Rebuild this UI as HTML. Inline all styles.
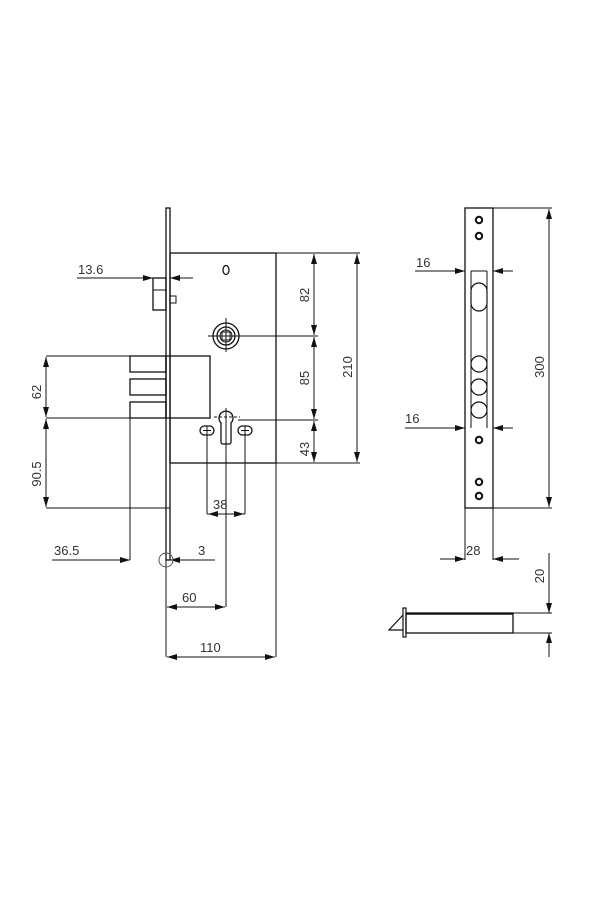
<!DOCTYPE html>
<html><head><meta charset="utf-8"><style>
html,body{margin:0;padding:0;background:#fff;}
svg{display:block}
text{font-family:"Liberation Sans",sans-serif;font-size:13px;fill:#333}
</style></head><body>
<svg width="600" height="900" viewBox="0 0 600 900" xmlns="http://www.w3.org/2000/svg">
<defs>
<marker id="a" viewBox="0 0 10 6" refX="10" refY="3" markerWidth="10" markerHeight="6" markerUnits="userSpaceOnUse" orient="auto-start-reverse"><path d="M0,0 L10,3 L0,6 z" fill="#111"/></marker>
</defs>
<g stroke="#111" stroke-width="1" fill="none">
<rect x="166" y="208" width="4" height="352" fill="#fff" stroke-width="1.3"/>
<line x1="166" y1="560" x2="166" y2="657"/>
<rect x="170" y="253" width="106" height="210" stroke-width="1.3"/>
<line x1="276" y1="463" x2="276" y2="657"/>
<ellipse cx="226" cy="270" rx="3" ry="4.5" stroke-width="1.3"/>
<rect x="153" y="278" width="13" height="32" stroke-width="1.3"/>
<line x1="153" y1="290" x2="166" y2="290"/>
<rect x="170" y="296" width="6" height="7"/>
<circle cx="226" cy="336" r="13" stroke-width="1.3"/>
<circle cx="226" cy="336" r="9" stroke-width="1.3"/>
<circle cx="226" cy="336" r="6"/>
<rect x="222" y="332" width="8" height="8"/>
<line x1="208" y1="336" x2="318" y2="336"/>
<line x1="226" y1="318" x2="226" y2="352"/>
<rect x="166" y="356" width="44" height="62" stroke-width="1.3"/>
<rect x="130" y="356" width="36" height="16" stroke-width="1.3"/>
<rect x="130" y="379" width="36" height="16" stroke-width="1.3"/>
<rect x="130" y="402" width="36" height="16" stroke-width="1.3"/>
<line x1="130" y1="418" x2="130" y2="560"/>
<path d="M221,423 A7,7 0 1 1 231,423 L231,442 A2,2 0 0 1 229,444 L223,444 A2,2 0 0 1 221,442 Z" stroke-width="1.3"/>
<line x1="226" y1="408" x2="226" y2="607"/>
<line x1="214" y1="417" x2="240" y2="417" stroke-dasharray="3,2"/>
<rect x="200" y="426" width="14" height="9" rx="4.5" stroke-width="1.3"/>
<rect x="238" y="426" width="14" height="9" rx="4.5" stroke-width="1.3"/>
<line x1="203" y1="430.5" x2="211" y2="430.5"/><line x1="241" y1="430.5" x2="249" y2="430.5"/>
<line x1="207" y1="426" x2="207" y2="514"/>
<line x1="245" y1="426" x2="245" y2="514"/>
<line x1="238" y1="420" x2="318" y2="420"/>
<line x1="276" y1="253" x2="360" y2="253"/>
<line x1="276" y1="463" x2="360" y2="463"/>
<line x1="314" y1="254" x2="314" y2="335" marker-start="url(#a)" marker-end="url(#a)"/>
<line x1="314" y1="337" x2="314" y2="419" marker-start="url(#a)" marker-end="url(#a)"/>
<line x1="314" y1="421" x2="314" y2="462" marker-start="url(#a)" marker-end="url(#a)"/>
<line x1="357" y1="254" x2="357" y2="462" marker-start="url(#a)" marker-end="url(#a)"/>
<line x1="77" y1="278" x2="153" y2="278" marker-end="url(#a)"/>
<line x1="193" y1="278" x2="170" y2="278" marker-end="url(#a)"/>
<line x1="46" y1="356" x2="130" y2="356"/>
<line x1="46" y1="418" x2="130" y2="418"/>
<line x1="46" y1="508" x2="170" y2="508"/>
<line x1="46" y1="357" x2="46" y2="417" marker-start="url(#a)" marker-end="url(#a)"/>
<line x1="46" y1="419" x2="46" y2="507" marker-start="url(#a)" marker-end="url(#a)"/>
<line x1="52" y1="560" x2="130" y2="560" marker-end="url(#a)"/>
<line x1="215" y1="560" x2="170" y2="560" marker-end="url(#a)"/>
<circle cx="166" cy="560" r="7" stroke="#555"/>
<line x1="207" y1="514" x2="245" y2="514"/>
<line x1="226" y1="514" x2="208" y2="514" marker-end="url(#a)"/>
<line x1="226" y1="514" x2="244" y2="514" marker-end="url(#a)"/>
<line x1="167" y1="607" x2="225" y2="607" marker-start="url(#a)" marker-end="url(#a)"/>
<line x1="167" y1="657" x2="275" y2="657" marker-start="url(#a)" marker-end="url(#a)"/>
<rect x="465" y="208" width="28" height="300" stroke-width="1.3"/>
<path d="M471,271 L471,428 M487,271 L487,428 M471,271 L487,271"/>
<path d="M471,291 A8,8 0 0 1 487,291 L487,303 A8,8 0 0 1 471,303 Z" stroke-width="1.2"/>
<circle cx="479" cy="364" r="8" stroke-width="1.2"/>
<circle cx="479" cy="387" r="8" stroke-width="1.2"/>
<circle cx="479" cy="410" r="8" stroke-width="1.2"/>
<g stroke-width="2">
<circle cx="479" cy="220" r="3.2"/><circle cx="479" cy="236" r="3.2"/>
<circle cx="479" cy="440" r="3.2"/><circle cx="479" cy="482" r="3.2"/><circle cx="479" cy="496" r="3.2"/>
</g>
<line x1="493" y1="208" x2="552" y2="208"/>
<line x1="493" y1="508" x2="552" y2="508"/>
<line x1="549" y1="209" x2="549" y2="507" marker-start="url(#a)" marker-end="url(#a)"/>
<line x1="415" y1="271" x2="465" y2="271" marker-end="url(#a)"/>
<line x1="513" y1="271" x2="493" y2="271" marker-end="url(#a)"/>
<line x1="405" y1="428" x2="465" y2="428" marker-end="url(#a)"/>
<line x1="513" y1="428" x2="493" y2="428" marker-end="url(#a)"/>
<line x1="465" y1="508" x2="465" y2="560"/>
<line x1="493" y1="508" x2="493" y2="560"/>
<line x1="440" y1="559" x2="465" y2="559" marker-end="url(#a)"/>
<line x1="519" y1="559" x2="493" y2="559" marker-end="url(#a)"/>
<rect x="406" y="613" width="107" height="20" stroke-width="1.3"/>
<line x1="406" y1="614" x2="513" y2="614" stroke-width="1.5"/>
<rect x="403" y="608" width="3" height="29" stroke-width="1.2"/>
<path d="M403,615 L389,630 L403,630" stroke-width="1.2"/>
<line x1="513" y1="613" x2="552" y2="613"/>
<line x1="513" y1="633" x2="552" y2="633"/>
<line x1="549" y1="553" x2="549" y2="613" marker-end="url(#a)"/>
<line x1="549" y1="657" x2="549" y2="633" marker-end="url(#a)"/>
</g>
<text x="78" y="274">13.6</text>
<text transform="translate(309,295) rotate(-90)" text-anchor="middle">82</text>
<text transform="translate(309,378) rotate(-90)" text-anchor="middle">85</text>
<text transform="translate(309,449) rotate(-90)" text-anchor="middle">43</text>
<text transform="translate(352,367) rotate(-90)" text-anchor="middle">210</text>
<text transform="translate(41,392) rotate(-90)" text-anchor="middle">62</text>
<text transform="translate(41,474) rotate(-90)" text-anchor="middle">90.5</text>
<text x="54" y="555">36.5</text>
<text x="198" y="555">3</text>
<text x="213" y="509">38</text>
<text x="182" y="602">60</text>
<text x="200" y="652">110</text>
<text x="416" y="267">16</text>
<text x="405" y="423">16</text>
<text transform="translate(544,367) rotate(-90)" text-anchor="middle">300</text>
<text x="466" y="555">28</text>
<text transform="translate(544,576) rotate(-90)" text-anchor="middle">20</text>
</svg>
</body></html>
